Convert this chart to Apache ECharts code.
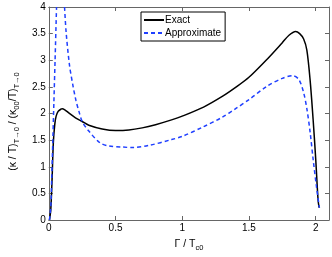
<!DOCTYPE html>
<html><head><meta charset="utf-8">
<script src="https://cdn.jsdelivr.net/npm/echarts@6/dist/echarts.min.js"></script>
<style>html,body{margin:0;padding:0;background:#fff;}#c{width:332px;height:257px;}</style>
</head><body><div id="c"></div>
<script>
const xTicks = [0, 0.5, 1, 1.5, 2];
const yTicks = [0, 0.5, 1, 1.5, 2, 2.5, 3, 3.5, 4];
const exactX = [0.005,0.015,0.025,0.034,0.045,0.055,0.07,0.09,0.10,0.12,0.15,0.2,0.25,0.3,0.4,0.5,0.6,0.7,0.8,0.92,1.0,1.16,1.3,1.4,1.5,1.64,1.75,1.8,1.85,1.88,1.91,1.934,1.958,1.982,2.001,2.018,2.026];
const exactY = [0,0.2,0.8,1.45,1.8,1.95,2.04,2.08,2.09,2.07,2.01,1.92,1.85,1.78,1.71,1.68,1.69,1.73,1.79,1.88,1.95,2.12,2.32,2.49,2.68,3.03,3.33,3.47,3.54,3.50,3.40,3.19,2.64,1.85,1.12,0.38,0.23];
const approxX = [0.005,0.015,0.022,0.029,0.038,0.047,0.058,null,0.118,0.13,0.155,0.179,0.203,0.227,0.25,0.3,0.383,0.45,0.55,0.63,0.75,0.92,1.0,1.158,1.3,1.4,1.5,1.64,1.75,1.826,1.874,1.91,1.934,1.958,1.982,2.006,2.028];
const approxY = [0,0.25,0.8,1.39,2.2,3.0,4.0,null,4.0,3.52,2.91,2.55,2.25,2.03,1.85,1.67,1.45,1.39,1.37,1.36,1.40,1.51,1.57,1.75,1.93,2.09,2.26,2.52,2.66,2.71,2.64,2.39,2.09,1.66,1.12,0.63,0.23];

const pairs = (xs, ys) => xs.map((x, i) => x === null ? [null, null] : [x, ys[i]]);
const F = 'Liberation Sans, Arial, Helvetica, sans-serif';
const frame = '#666';
const tickFmt = list => v => list.some(t => Math.abs(t - v) < 1e-9) ? String(v) : '';

const chart = echarts.init(document.getElementById('c'), null, {renderer: 'canvas'});
chart.setOption({
  animation: false,
  backgroundColor: '#fff',
  textStyle: {fontFamily: F},
  grid: {left: 39, top: 7, right: 3, bottom: 31, containLabel: false},
  legend: {
    left: 141, top: 12, orient: 'vertical', itemWidth: 20, itemHeight: 8, itemGap: 3,
    padding: [3, 4, 3, 2], borderColor: '#000', borderWidth: 1, backgroundColor: '#fff',
    itemStyle: {opacity: 0},
    textStyle: {fontFamily: F, fontSize: 10, color: '#000', padding: [0, 0, 0, -4]},
    data: ['Exact', 'Approximate']
  },
  xAxis: [{
    type: 'value', min: 0, max: 2.1, interval: 0.5, position: 'bottom',
    axisLine: {show: true, onZero: false, lineStyle: {color: frame, width: 1}},
    axisTick: {show: true, inside: true, length: 4, lineStyle: {color: frame}},
    axisLabel: {color: '#000', fontSize: 10, fontFamily: F, margin: 3, formatter: tickFmt(xTicks)},
    splitLine: {show: false},
    name: '{m|Γ / T}{s|c0}', nameLocation: 'middle', nameGap: 17,
    nameTextStyle: {rich: {
      m: {fontSize: 10.5, fontFamily: F, color: '#000'},
      s: {fontSize: 7.5, fontFamily: F, color: '#000', padding: [7, 0, 0, 0]}
    }}
  }, {
    type: 'value', min: 0, max: 2.1, interval: 0.5, position: 'top',
    axisLine: {show: true, onZero: false, lineStyle: {color: frame, width: 1}},
    axisTick: {show: true, inside: true, length: 4, lineStyle: {color: frame}},
    axisLabel: {show: false}, splitLine: {show: false}
  }],
  yAxis: [{
    type: 'value', min: 0, max: 4, interval: 0.5, position: 'left',
    axisLine: {show: true, onZero: false, lineStyle: {color: frame, width: 1}},
    axisTick: {show: true, inside: true, length: 4, lineStyle: {color: frame}},
    axisLabel: {color: '#000', fontSize: 10, fontFamily: F, margin: 3, formatter: tickFmt(yTicks)},
    splitLine: {show: false},
    name: '{m|(κ / T)}{s|T→0}{m| / (κ}{s|00}{m|/T)}{s|T→0}', nameLocation: 'middle', nameGap: 21,
    nameTextStyle: {padding: [0, 16, 0, 0], rich: {
      m: {fontSize: 10.5, fontFamily: F, color: '#000'},
      s: {fontSize: 7.5, fontFamily: F, color: '#000', padding: [7, 0, 0, 0]}
    }}
  }, {
    type: 'value', min: 0, max: 4, interval: 0.5, position: 'right',
    axisLine: {show: true, onZero: false, lineStyle: {color: frame, width: 1}},
    axisTick: {show: true, inside: true, length: 4, lineStyle: {color: frame}},
    axisLabel: {show: false}, splitLine: {show: false}
  }],
  series: [{
    name: 'Exact', type: 'line', data: pairs(exactX, exactY), symbol: 'none', smooth: 0.3,
    clip: true, connectNulls: false,
    lineStyle: {color: '#000', width: 1.5}, itemStyle: {color: '#000'}
  }, {
    name: 'Approximate', type: 'line', data: pairs(approxX, approxY), symbol: 'none', smooth: 0.3,
    clip: true, connectNulls: false,
    lineStyle: {color: '#1f3fff', width: 1.5, type: [4, 3]}, itemStyle: {color: '#1f3fff'}
  }]
});
</script></body></html>
